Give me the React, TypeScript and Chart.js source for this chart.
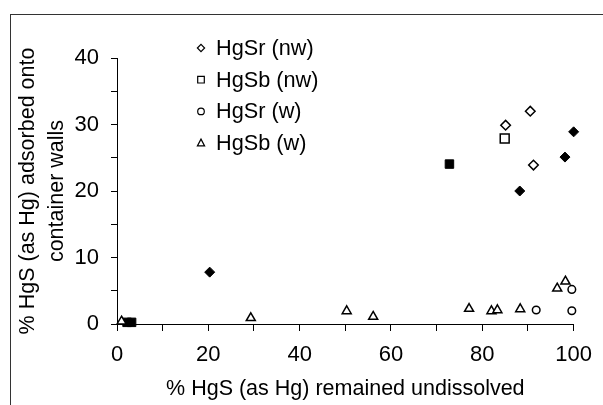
import React, { useEffect, useRef } from 'react';
import { Chart, registerables } from 'chart.js';

Chart.register(...registerables);

// ---- axis ranges & labels ----
const X_MIN = 0;
const X_MAX = 100;
const Y_MIN = 0;
const Y_MAX = 40;
const X_TITLE = '% HgS (as Hg) remained undissolved';
const Y_TITLE = ['% HgS (as Hg) adsorbed onto', 'container walls'];

// ---- series (open markers, in legend) ----
const hgSrNwX = [85.1, 90.5, 91.2];
const hgSrNwY = [29.9, 32.0, 23.9];

const hgSbNwX = [84.9];
const hgSbNwY = [27.9];

const hgSrWX = [91.8, 99.6, 99.6];
const hgSrWY = [2.1, 2.0, 5.2];

const hgSbWX = [1.0, 29.3, 50.3, 56.1, 77.1, 82.0, 83.3, 88.3, 96.4, 98.2];
const hgSbWY = [0.4, 0.9, 1.95, 1.1, 2.3, 1.95, 2.1, 2.25, 5.35, 6.4];

// ---- filled markers (not in legend) ----
const hgSrFilledX = [20.3, 88.2, 98.1, 100];
const hgSrFilledY = [7.8, 20.0, 25.1, 28.9];

const hgSbFilledX = [72.8, 2.2, 3.2];
const hgSbFilledY = [24.05, 0.25, 0.25];

const LEGEND_LABELS = ['HgSr (nw)', 'HgSb (nw)', 'HgSr (w)', 'HgSb (w)'];

const FONT = '"Liberation Sans", Arial, sans-serif';

const pts = (xs: number[], ys: number[]) => xs.map((x, i) => ({ x, y: ys[i] }));

const legendPlugin = {
  id: 'customLegend',
  afterDraw(chart: any) {
    const ctx = chart.ctx;
    const area = chart.chartArea;
    const mx = area.left + 84;
    const tx = area.left + 99;
    const y0 = area.top - 10;
    const step = 31.7;
    ctx.save();
    ctx.fillStyle = '#000';
    ctx.strokeStyle = '#000';
    ctx.lineWidth = 1.2;
    ctx.font = `21.7px ${FONT}`;
    ctx.textBaseline = 'middle';
    ctx.textAlign = 'left';
    LEGEND_LABELS.forEach((label, i) => {
      const y = y0 + i * step;
      ctx.beginPath();
      if (i === 0) {
        const r = 3.6;
        ctx.moveTo(mx - r, y);
        ctx.lineTo(mx, y - r);
        ctx.lineTo(mx + r, y);
        ctx.lineTo(mx, y + r);
        ctx.closePath();
      } else if (i === 1) {
        ctx.rect(mx - 3.3, y - 3.3, 6.6, 6.6);
      } else if (i === 2) {
        ctx.arc(mx, y, 3.3, 0, Math.PI * 2);
      } else {
        ctx.moveTo(mx, y - 4);
        ctx.lineTo(mx + 3.6, y + 2.8);
        ctx.lineTo(mx - 3.6, y + 2.8);
        ctx.closePath();
      }
      ctx.fillStyle = '#fff';
      ctx.fill();
      ctx.stroke();
      ctx.fillStyle = '#000';
      ctx.fillText(label, tx, y + 1);
    });
    ctx.restore();
  },
};

export default function App() {
  const canvasRef = useRef<HTMLCanvasElement | null>(null);

  useEffect(() => {
    const canvas = canvasRef.current;
    if (!canvas) return;
    const open = {
      backgroundColor: '#fff',
      borderColor: '#000',
      borderWidth: 1.5,
      showLine: false,
      clip: false as any,
    };
    const filled = {
      backgroundColor: '#000',
      borderColor: '#000',
      borderWidth: 1,
      showLine: false,
      clip: false as any,
    };
    const chart = new Chart(canvas, {
      type: 'scatter',
      data: {
        datasets: [
          { ...open, label: LEGEND_LABELS[0], data: pts(hgSrNwX, hgSrNwY), pointStyle: 'rectRot', pointRadius: 4.8 },
          { ...open, label: LEGEND_LABELS[1], data: pts(hgSbNwX, hgSbNwY), pointStyle: 'rect', pointRadius: 6.3 },
          { ...open, label: LEGEND_LABELS[2], data: pts(hgSrWX, hgSrWY), pointStyle: 'circle', pointRadius: 3.8 },
          { ...open, label: LEGEND_LABELS[3], data: pts(hgSbWX, hgSbWY), pointStyle: 'triangle', pointRadius: 5.2 },
          { ...filled, label: 'HgSr filled', data: pts(hgSrFilledX, hgSrFilledY), pointStyle: 'rectRot', pointRadius: 5 },
          { ...filled, label: 'HgSb filled', data: pts(hgSbFilledX, hgSbFilledY), pointStyle: 'rect', pointRadius: 6 },
        ] as any,
      },
      options: {
        responsive: false,
        animation: false,
        devicePixelRatio: 1,
        layout: { padding: { left: 0, top: 58, right: 26, bottom: 0 } },
        plugins: {
          legend: { display: false },
          tooltip: { enabled: false },
        },
        scales: {
          x: {
            type: 'linear',
            min: X_MIN,
            max: X_MAX,
            afterFit: (scale: any) => {
              scale.height = 81;
            },
            border: { display: true, color: '#000', width: 1 },
            grid: { display: true, drawOnChartArea: false, drawTicks: true, tickLength: 7, color: '#000' },
            ticks: {
              stepSize: 10,
              autoSkip: false,
              maxRotation: 0,
              padding: 11,
              color: '#000',
              font: { family: FONT, size: 22 },
              callback: (v: any) => (Number(v) % 20 === 0 ? String(v) : ''),
            },
            title: {
              display: true,
              text: X_TITLE,
              color: '#000',
              font: { family: FONT, size: 21.5, lineHeight: 1.33 },
              padding: { top: 0, bottom: 2 },
            },
          },
          y: {
            type: 'linear',
            min: Y_MIN,
            max: Y_MAX,
            afterFit: (scale: any) => {
              scale.width = 117;
            },
            border: { display: true, color: '#000', width: 1 },
            grid: { display: true, drawOnChartArea: false, drawTicks: true, tickLength: 6, color: '#000' },
            ticks: {
              stepSize: 5,
              autoSkip: false,
              padding: 12,
              color: '#000',
              font: { family: FONT, size: 22 },
              callback: (v: any) => (Number(v) % 10 === 0 ? String(v) : ''),
            },
            title: {
              display: true,
              text: Y_TITLE,
              color: '#000',
              font: { family: FONT, size: 21.5, lineHeight: 1.33 },
              padding: { top: 14, bottom: 0 },
            },
          },
        },
      } as any,
      plugins: [legendPlugin],
    });
    return () => chart.destroy();
  }, []);

  return (
    <div
      style={{
        position: 'fixed',
        left: 0,
        top: 0,
        width: 603,
        height: 405,
        overflow: 'hidden',
        background: '#fff',
      }}
    >
      <div
        style={{
          position: 'absolute',
          left: 10,
          top: 14,
          width: 700,
          height: 500,
          border: '1.5px solid #333',
          boxSizing: 'border-box',
        }}
      />
      <canvas
        ref={canvasRef}
        width={603}
        height={405}
        style={{ position: 'absolute', left: 0, top: 0, width: 603, height: 405 }}
      />
    </div>
  );
}
